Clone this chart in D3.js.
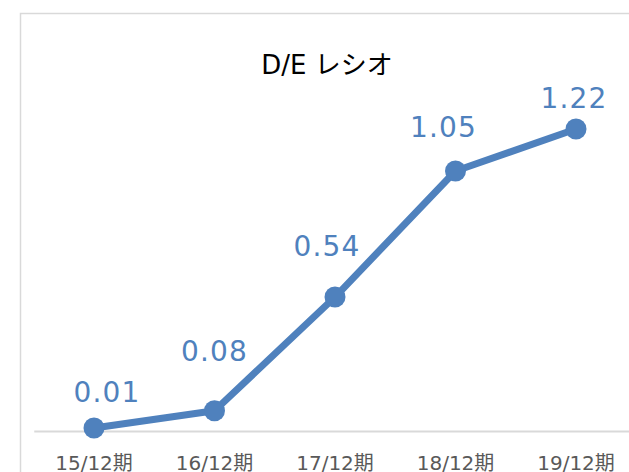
<!DOCTYPE html>
<html>
<head>
<meta charset="utf-8">
<script src="https://cdn.jsdelivr.net/npm/d3@7"></script>
<style>
  body { margin: 0; background: #fff; }
  svg { display: block; font-family: "DejaVu Sans", Verdana, "Noto Sans CJK JP", sans-serif; }
</style>
</head>
<body>
<div id="chart"></div>
<script>
// data
const periods = ['15/12期', '16/12期', '17/12期', '18/12期', '19/12期']
const ratios = [0.01, 0.08, 0.54, 1.05, 1.22]
const title = 'D/E レシオ'

// hand-placed data labels (offset from the point, px)
const labelDx = [13, 0, -8, -12, -2]
const labelDy = [-26, -50, -41, -34, -21]

const width = 629,
height = 472,
color = '#4f81bd'

let svg = d3.select('#chart')
.append('svg')
.attr('width', width)
.attr('height', height)

// chart frame (cut off on the right and bottom)
svg.append('rect')
.attr('x', 20.5)
.attr('y', 13.5)
.attr('width', 700)
.attr('height', 600)
.attr('fill', '#fff')
.attr('stroke', '#d9d9d9')
.attr('stroke-width', 1.5)

svg.append('text')
.attr('x', 327)
.attr('y', 74)
.attr('text-anchor', 'middle')
.attr('font-size', 26)
.attr('fill', '#000')
.text(title)

const x = d3.scaleBand()
.domain(periods)
.range([33.75, 636.25])

const y = d3.scaleLinear()
.domain([0, 1.22])
.range([430.5, 129])

// x axis
const xAxis = d3.axisBottom(x).tickSize(0).tickPadding(0)
let gx = svg.append('g')
.attr('transform', 'translate(0,431)')
.call(xAxis)
gx.select('.domain').attr('stroke', '#d9d9d9').attr('stroke-width', 2)
gx.selectAll('text')
.attr('y', 39)
.attr('dy', null)
.attr('font-size', 20)
.attr('fill', '#595959')
.style('font-family', '"DejaVu Sans", "Noto Sans CJK JP", sans-serif')

const cx = d => x(d) + x.bandwidth() / 2

const line = d3.line()
.x((d, i) => cx(periods[i]))
.y(d => y(d))

svg.append('path')
.datum(ratios)
.attr('d', line)
.attr('fill', 'none')
.attr('stroke', color)
.attr('stroke-width', 7)
.attr('stroke-linejoin', 'round')

svg.selectAll('circle.pt')
.data(ratios)
.enter()
.append('circle')
.attr('class', 'pt')
.attr('cx', (d, i) => cx(periods[i]))
.attr('cy', d => y(d))
.attr('r', 10.5)
.attr('fill', color)

svg.selectAll('text.lbl')
.data(ratios)
.enter()
.append('text')
.attr('class', 'lbl')
.attr('x', (d, i) => cx(periods[i]) + labelDx[i])
.attr('y', (d, i) => y(d) + labelDy[i])
.attr('text-anchor', 'middle')
.attr('font-size', 28)
.attr('letter-spacing', 1.2)
.attr('fill', color)
.text(d => d.toFixed(2))
</script>
</body>
</html>
